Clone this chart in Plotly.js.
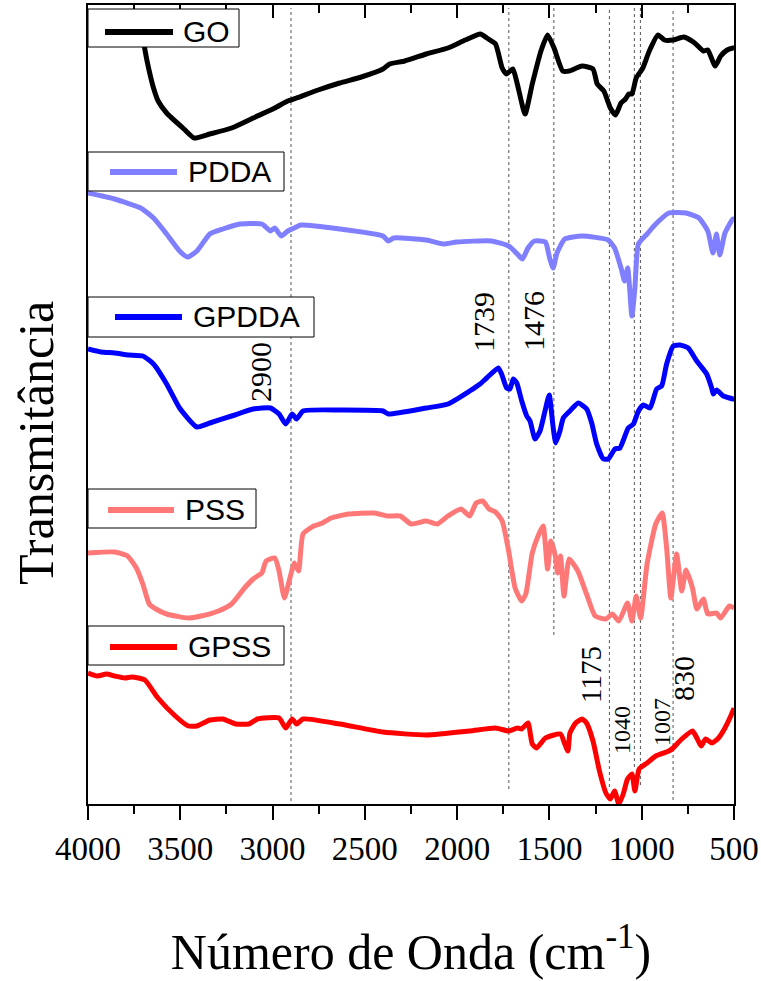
<!DOCTYPE html>
<html><head><meta charset="utf-8">
<script src="https://cdn.plot.ly/plotly-3.0.1.min.js"></script>
<style>body{margin:0;background:#fff}</style>
</head><body>
<div id="chart" style="width:761px;height:981px"></div>
<script>
// ---- data (wavenumber in cm-1, offset transmittance in arbitrary units) ----
const seriesNames = ['GO', 'PDDA', 'GPDDA', 'PSS', 'GPSS'];
const seriesColors = ['#000000', '#7f7fff', '#0000ff', '#ff7878', '#ff0000'];

const goX = [3700,3680,3645,3620,3574,3480,3425,3340,3222,3105,2988,2918,2870,2753,2636,2519,2402,2366,2284,2167,2050,1956,1874,1839,1792,1756,1733,1698,1674,1632,1593,1546,1510,1475,1428,1393,1323,1264,1241,1205,1170,1142,1112,1088,1070,1053,1030,994,959,912,877,830,772,713,666,642,602,572,537,506,500];
const goY = [763,743,716,703,691,675,666,670,676,686,696,703,706,714,721,727,735,740,743,750,756,764,770,766,760,736,730,735,720,690,720,753,769,756,733,733,738,735,720,713,696,689,701,705,710,710,726,736,753,769,764,764,767,761,753,754,738,748,754,756,756];

const pddaX = [4000,3856,3715,3645,3574,3504,3461,3410,3340,3269,3175,3058,3011,2988,2953,2918,2882,2847,2636,2402,2373,2343,2167,2073,2003,1815,1721,1674,1646,1616,1581,1522,1499,1480,1459,1417,1323,1182,1147,1112,1093,1076,1053,1037,1018,971,924,853,760,690,642,614,595,577,549,506,500];
const pddaY = [611,605,596,586,570,553,547,553,570,575,580,580,573,576,568,573,576,579,575,568,563,566,564,560,562,563,558,550,545,556,563,562,546,536,551,565,568,564,556,536,523,536,488,516,560,570,580,591,591,586,573,551,570,549,571,585,585];

const gpddaX = [4000,3930,3856,3780,3703,3645,3574,3504,3410,3340,3222,3105,3011,2965,2929,2894,2870,2835,2636,2402,2373,2167,2050,1932,1876,1840,1777,1759,1732,1714,1696,1677,1650,1623,1605,1578,1551,1524,1501,1482,1466,1443,1425,1389,1344,1298,1271,1244,1208,1181,1145,1118,1073,1045,1018,991,955,919,892,865,829,793,748,702,648,621,612,594,558,504,500];
const gpddaY = [455,452,451,449,448,440,420,396,377,381,388,395,396,390,380,390,385,393,394,393,390,396,400,413,420,426,436,430,416,415,425,421,403,388,383,365,373,393,409,380,361,373,386,393,401,395,381,360,345,345,355,356,376,380,393,399,396,415,418,440,458,459,456,443,430,416,410,414,408,405,405];

const pssX = [4000,3856,3786,3738,3703,3668,3632,3574,3457,3387,3293,3222,3152,3105,3082,3058,3035,2988,2965,2936,2906,2882,2859,2835,2777,2730,2683,2589,2449,2378,2308,2249,2167,2108,2050,1979,1932,1897,1862,1827,1792,1756,1721,1686,1651,1628,1593,1557,1534,1510,1492,1468,1456,1440,1421,1393,1346,1299,1252,1194,1159,1124,1077,1053,1030,1006,971,924,889,865,842,811,783,760,725,701,666,642,595,572,525,500];
const pssY = [251,252,248,236,220,200,195,190,186,188,193,200,216,225,228,231,243,246,233,206,226,241,233,270,278,281,286,290,291,288,288,280,283,280,288,295,288,301,303,295,292,283,253,216,203,210,251,270,278,235,263,248,231,248,208,245,233,210,188,185,190,183,201,183,208,186,240,280,291,256,206,250,213,234,216,195,205,190,191,186,198,196];

const gpssX = [4000,3950,3900,3856,3800,3762,3692,3621,3527,3457,3410,3340,3269,3199,3129,3082,2965,2929,2894,2870,2835,2636,2402,2167,1932,1792,1721,1674,1651,1616,1593,1569,1522,1440,1417,1400,1389,1358,1323,1299,1264,1229,1194,1170,1147,1124,1100,1077,1053,1037,1014,971,924,853,830,783,725,701,678,654,619,584,549,506,500];
const gpssY = [131,128,130,128,126,127,124,106,88,78,78,84,85,80,80,85,86,76,85,80,85,80,72,69,73,76,73,76,75,81,60,56,66,70,60,53,71,81,85,81,63,33,11,5,13,0,10,25,30,13,35,41,48,53,56,65,73,66,58,65,61,66,76,93,96];

const seriesX = [goX, pddaX, gpddaX, pssX, gpssX];
const seriesY = [goY, pddaY, gpddaY, pssY, gpssY];

const peakLines = [2900, 1720, 1476, 1175, 1040, 1007, 830];
const peakLabels = ['2900', '1739', '1476', '1175', '1040', '1007', '830'];
const xTickVals = [4000, 3500, 3000, 2500, 2000, 1500, 1000, 500];
const xMinorVals = [3750, 3250, 2750, 2250, 1750, 1250, 750];

// ---- layout helpers (pixel positions -> paper) ----
const L = 88, R = 734, T = 5, B = 804;
const PX = p => (p - L) / (R - L);
const PY = p => (B - p) / (B - T);

// legend boxes: [x0, x1, y0, y1, lineY, lineX0, lineX1, textX]
const legendBoxes = [
  [88, 239, 9, 47, 32, 105, 173, 181],
  [88, 284, 152, 191, 172, 110, 177, 186],
  [88, 314, 297, 337, 317, 115, 182, 191],
  [88, 256, 489, 528, 510, 108, 174, 183],
  [88, 284, 626, 665, 647, 110, 177, 186]
];
const peakLineEnds = [[8, 801], [8, 789], [8, 635], [8, 787], [8, 767], [8, 785], [8, 800]];
const peakLabelPos = [[260, 372, 30], [483, 322, 30], [533, 321, 30], [591, 675, 29], [622, 730, 24], [662, 722, 24], [683, 679, 30]];

const SERIF = 'Liberation Serif';
const SANS = 'Liberation Sans';

const traces = seriesNames.map((n, i) => ({
  type: 'scatter', mode: 'lines', name: n,
  x: seriesX[i], y: seriesY[i],
  line: {color: seriesColors[i], width: 5, shape: 'spline', smoothing: 0.5},
  showlegend: false, hoverinfo: 'skip'
}));

const shapes = [];
const annotations = [];
peakLines.forEach((v, i) => {
  shapes.push({type: 'line', xref: 'x', yref: 'paper', x0: v, x1: v,
    y0: PY(peakLineEnds[i][1]), y1: PY(peakLineEnds[i][0]),
    line: {color: '#555', width: 1, dash: 'dot'}, layer: 'below'});
  annotations.push({text: peakLabels[i], xref: 'paper', yref: 'paper',
    x: PX(peakLabelPos[i][0]), y: PY(peakLabelPos[i][1]), xanchor: 'center', yanchor: 'middle',
    textangle: -90, showarrow: false,
    font: {family: SERIF, size: peakLabelPos[i][2], color: '#000'}});
});
seriesNames.forEach((n, i) => {
  const b = legendBoxes[i];
  shapes.push({type: 'rect', xref: 'paper', yref: 'paper', x0: PX(b[0]), x1: PX(b[1]), y0: PY(b[3]), y1: PY(b[2]),
    fillcolor: '#fff', line: {color: '#000', width: 1}, layer: 'above'});
  shapes.push({type: 'line', xref: 'paper', yref: 'paper', x0: PX(b[5]), x1: PX(b[6]), y0: PY(b[4]), y1: PY(b[4]),
    line: {color: seriesColors[i], width: 6}, layer: 'above'});
  annotations.push({text: n, xref: 'paper', yref: 'paper', x: PX(b[7]), y: PY(b[4] - 1),
    xanchor: 'left', yanchor: 'middle', showarrow: false,
    font: {family: SANS, size: 30, color: '#000'}});
});
annotations.push({text: 'Transmitância', xref: 'paper', yref: 'paper', x: PX(36), y: PY(443),
  xanchor: 'center', yanchor: 'middle', textangle: -90, showarrow: false,
  font: {family: SERIF, size: 50, color: '#000'}});

const layout = {
  width: 761, height: 981,
  margin: {l: L, r: 761 - R, t: T, b: 981 - B},
  paper_bgcolor: '#fff', plot_bgcolor: '#fff',
  showlegend: false,
  font: {family: SERIF, color: '#000'},
  xaxis: {
    range: [4000, 500], tickvals: xTickVals, ticktext: xTickVals.map(String),
    ticks: 'outside', ticklen: 14, tickwidth: 2, tickcolor: '#000',
    minor: {tickvals: xMinorVals, ticks: 'outside', ticklen: 8, tickwidth: 2, tickcolor: '#000'},
    showline: true, linewidth: 2, linecolor: '#000', mirror: true,
    showgrid: false, zeroline: false,
    tickfont: {family: SERIF, size: 33, color: '#000'},
    title: {text: 'Número de Onda (cm<sup>-1</sup>)', font: {family: SERIF, size: 50, color: '#000'}, standoff: 68}
  },
  xaxis2: {
    overlaying: 'x', side: 'top', range: [4000, 500], tickvals: xTickVals,
    ticks: 'inside', ticklen: 13, tickwidth: 2, tickcolor: '#000', showticklabels: false,
    minor: {tickvals: xMinorVals, ticks: 'inside', ticklen: 8, tickwidth: 2, tickcolor: '#000'},
    showline: false, showgrid: false, zeroline: false
  },
  yaxis: {
    range: [0, 799], showticklabels: false, ticks: '', showgrid: false, zeroline: false,
    showline: true, linewidth: 2, linecolor: '#000', mirror: true
  },
  shapes: shapes,
  annotations: annotations
};
traces.push({type: 'scatter', x: [4000], y: [0], xaxis: 'x2', yaxis: 'y', mode: 'markers', marker: {opacity: 0}, showlegend: false, hoverinfo: 'skip'});
Plotly.newPlot('chart', traces, layout, {displayModeBar: false});
</script>
</body></html>
